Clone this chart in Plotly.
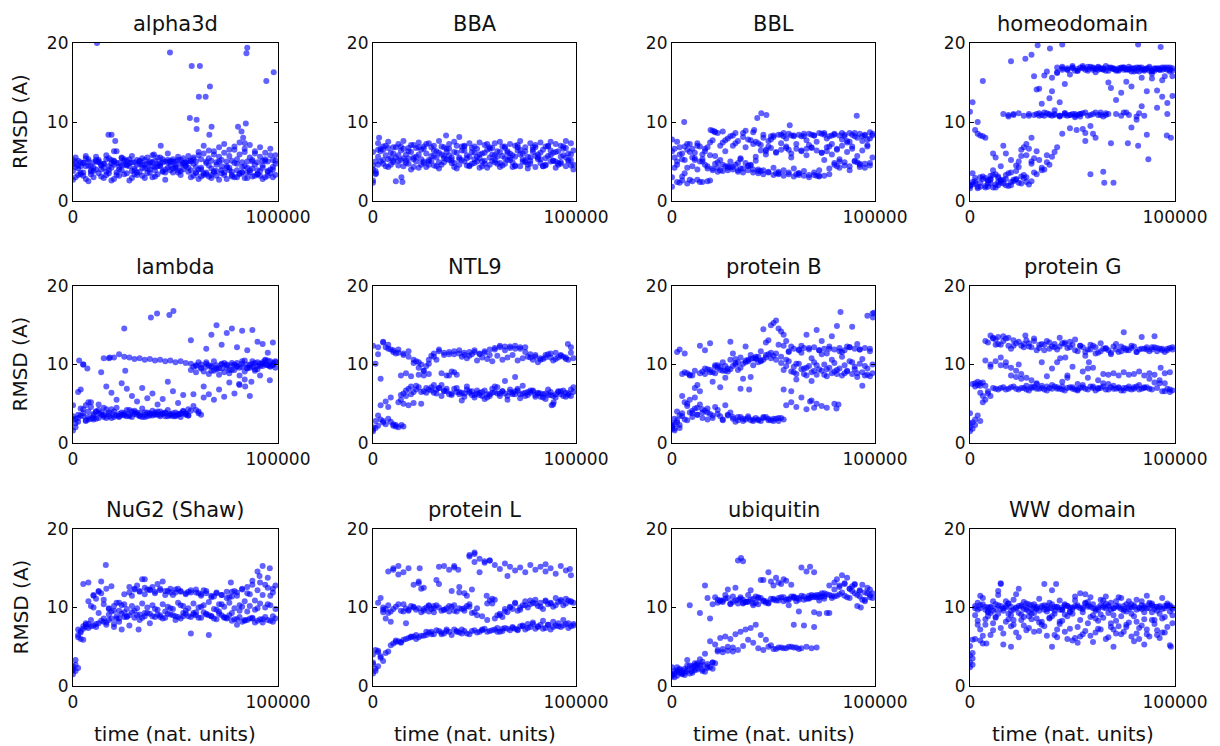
import plotly.graph_objects as go

# ---------------- data ----------------
PANEL_TITLES = ["alpha3d", "BBA", "BBL", "homeodomain",
                "lambda", "NTL9", "protein B", "protein G",
                "NuG2 (Shaw)", "protein L", "ubiquitin", "WW domain"]
X_TICK_VALUES = [0, 100000]
X_TICK_LABELS = ["0", "100000"]
Y_TICK_VALUES = [0, 10, 20]
Y_TICK_LABELS = ["0", "10", "20"]
Y_LABEL = "RMSD (A)"
X_LABEL = "time (nat. units)"

TIME_A = [0, 2500, 5000, 7500, 10000, 12500, 15000, 17500, 20000, 22500,
          25000, 27500, 30000, 32500, 35000, 37500, 40000, 42500, 45000, 47500,
          50000, 52500, 55000, 57500, 60000, 62500, 65000, 67500, 70000, 72500,
          75000, 77500, 80000, 82500, 85000, 87500, 90000, 92500, 95000, 97500]
TIME_B = [1250, 3750, 6250, 8750, 11250, 13750, 16250, 18750, 21250, 23750,
          26250, 28750, 31250, 33750, 36250, 38750, 41250, 43750, 46250, 48750,
          51250, 53750, 56250, 58750, 61250, 63750, 66250, 68750, 71250, 73750,
          76250, 78750, 81250, 83750, 86250, 88750, 91250, 93750, 96250, 98750]
N = None

ALPHA3D_BANDS = [
    [4.6,5.1,4.8,5.3,4.9,5.2,4.7,5.4,5.0,4.8, 5.1,5.3,4.9,5.0,5.2,4.8,5.1,5.5,5.0,5.1,
     5.0,5.2,4.9,5.1,5.0,5.3,5.0,5.1,4.9,5.2, 5.0,5.1,5.3,4.9,5.0,5.2,4.9,5.1,5.0,5.2],
    [3.0,3.6,2.8,3.4,4.0,3.1,3.7,2.6,3.3,3.9, 3.5,2.9,3.6,3.2,4.1,3.0,3.4,3.8,4.2,3.6,
     3.9,4.0,3.7,3.2,2.8,3.5,3.1,3.6,2.7,3.3, 3.9,3.0,3.4,2.9,3.6,3.2,3.8,3.0,3.5,3.3],
    [5.2,4.1,3.6,4.5,3.8,4.9,4.2,3.5,4.6,4.0, 5.3,4.4,3.9,4.7,4.1,3.6,4.3,4.8,4.0,4.5,
     4.2,4.6,4.4,3.9,4.3,4.0,3.6,4.1,3.8,4.4, 4.2,3.7,3.9,4.3,3.6,4.1,3.9,4.2,3.8,4.0],
    [5.5,4.4,5.7,3.9,5.6,4.5,5.8,5.2,6.3,5.5, 4.6,5.7,3.3,5.4,4.7,5.8,5.5,4.9,6.0,5.3,
     5.6,5.4,5.7,5.5,6.2,7.0,6.4,5.9,6.8,7.2, 6.5,6.9,7.4,6.6,7.1,6.3,6.8,6.1,6.6,5.8],
    [2.7,3.3,4.8,2.5,3.0,5.0,2.9,4.4,2.8,3.2, 4.6,2.6,3.4,5.1,2.9,4.0,3.1,4.5,2.7,3.9,
     4.6,3.3,4.8,3.0,3.6,3.1,3.4,2.9,3.2,3.5, 2.8,3.3,3.0,3.6,2.9,3.1,3.4,2.8,3.2,3.0],
    [4.3,4.9,5.4,4.4,5.0,4.6,5.3,4.2,4.8,5.4, 4.5,4.9,5.2,4.6,5.5,4.4,4.7,5.3,4.9,5.0,
     5.2,4.8,5.1,4.7,5.8,6.0,5.4,6.3,5.6,6.1, 5.7,6.5,5.9,6.2,5.5,6.0,5.6,5.3,5.8,5.1],
    [3.8,4.5,3.2,5.0,4.2,3.5,4.7,3.9,5.1,4.3, 3.4,4.8,4.1,3.7,4.6,5.0,3.9,4.4,3.6,4.9,
     4.3,3.8,4.5,5.0,3.5,4.2,4.8,3.3,4.6,3.9, 4.4,3.1,4.7,3.6,4.2,5.0,3.4,4.5,3.7,4.3],
    [4.9,3.4,4.4,3.7,5.2,4.0,3.3,4.8,3.6,4.5, 5.1,3.8,4.6,4.2,3.5,4.9,4.4,3.7,5.2,4.1,
     3.6,4.7,4.2,5.3,4.0,3.3,4.5,3.8,5.0,3.6, 4.2,4.8,3.5,4.4,3.9,4.6,3.2,5.1,4.0,4.7],
]
ALPHA3D_OUT_X = [11700, 47300, 57900, 61900, 61400, 64700, 66800, 57000, 60300, 60300,
                 67600, 66500, 84600, 85000, 94300, 97900, 17300, 18800, 20600, 42800,
                 80500, 84300, 82200, 83000, 83800, 20000, 39500]
ALPHA3D_OUT_Y = [20.0, 18.8, 17.1, 17.1, 13.2, 13.2, 14.5, 10.5, 10.3, 9.1,
                 9.4, 8.4, 18.7, 19.4, 15.2, 16.3, 8.4, 8.4, 7.6, 7.0,
                 9.4, 9.8, 8.8, 8.0, 7.3, 6.3, 5.9]

BBA_BANDS = [
    [6.2,7.3,6.9,7.5,6.8,7.2,7.6,6.7,7.1,7.4, 6.9,7.3,7.0,7.6,6.8,7.2,7.5,8.1,7.0,7.3,
     6.9,7.4,7.1,6.8,7.3,7.5,6.9,7.2,7.0,7.6, 6.8,7.3,7.1,7.4,6.9,7.5,7.2,7.0,7.6,7.3],
    [5.0,6.3,5.8,6.1,5.5,6.4,5.9,6.2,5.6,6.5, 6.0,5.7,6.3,5.9,6.6,5.5,6.1,6.4,5.8,6.2,
     5.6,6.0,6.5,5.9,6.3,5.7,6.1,5.8,6.4,6.0, 5.6,6.2,5.9,6.5,5.7,6.1,6.3,5.8,6.0,6.4],
    [2.6,4.6,5.2,4.3,4.9,5.1,4.4,4.7,5.3,4.2, 4.8,5.0,4.5,4.1,4.9,5.2,4.3,4.6,5.0,4.4,
     4.8,4.2,5.1,4.6,4.9,4.3,4.7,5.2,4.5,4.4, 4.9,5.1,4.3,4.8,4.6,5.0,4.2,4.7,4.4,4.5],
    [3.8,6.6,4.4,5.4,2.5,6.9,5.1,4.0,6.7,5.3, 4.3,6.8,5.5,4.6,6.2,5.2,4.1,6.9,5.4,4.7,
     6.6,5.0,4.2,6.7,5.6,4.5,6.3,4.9,6.8,5.3, 4.1,6.5,5.5,4.4,6.9,5.1,4.6,6.6,5.2,4.0],
    [4.0,5.6,6.5,5.3,6.0,5.8,5.4,6.3,5.5,5.9, 6.6,5.2,5.7,6.1,5.4,5.8,6.2,5.5,6.4,5.6,
     5.3,5.9,6.1,5.5,5.8,6.2,5.4,6.0,5.6,5.9, 6.3,5.5,5.7,6.1,5.4,5.8,6.2,5.6,5.5,5.9],
    [3.4,5.0,7.0,4.6,6.8,5.2,4.8,7.1,5.0,4.6, 7.2,5.1,4.4,6.9,5.3,4.8,7.0,5.2,4.5,6.7,
     5.0,4.4,7.2,5.1,4.7,6.9,5.2,4.3,7.1,5.0, 4.6,6.8,5.3,4.4,7.0,5.1,4.8,6.9,5.0,4.6],
    [4.5,6.5,4.7,6.7,5.1,4.5,6.6,5.4,4.3,6.8, 5.0,4.6,6.4,4.9,5.7,6.6,4.8,5.3,6.9,4.5,
     6.1,5.4,4.7,6.6,5.2,4.8,6.7,5.5,4.4,6.5, 5.1,4.7,6.8,5.3,4.5,6.4,5.0,4.9,6.7,5.2],
]
BBA_OUT_X = [0, 1500, 3000, 14000, 14500, 36000]
BBA_OUT_Y = [2.3, 3.5, 8.0, 3.0, 2.4, 8.3]

BBL_BANDS = [
    [1.8,2.4,2.6,2.2,2.5,2.7,2.4,2.5,3.9,4.2, 3.8,4.4,4.0,3.7,4.1,3.9,3.6,3.8,3.4,3.6,
     3.3,3.5,3.2,3.4,3.1,3.3,3.2,3.0,3.3,3.1, 3.2,3.4,4.6,4.2,4.9,4.4,5.0,4.3,4.7,4.5],
    [5.5,6.8,5.2,7.2,6.1,5.0,6.6,5.8,4.7,5.2, 4.4,5.0,4.6,5.3,4.8,4.5,5.1,6.4,5.9,6.7,
     6.2,6.5,6.9,6.0,6.6,6.3,5.8,6.7,6.4,6.1, 6.8,5.9,6.5,7.0,6.2,6.6,5.7,6.4,6.9,5.5],
    [6.3,7.5,6.0,7.2,6.6,7.3,5.9,6.8,8.9,8.6, 7.4,7.9,8.3,7.6,8.1,7.8,8.7,7.3,8.0,7.6,
     8.3,8.4,8.2,8.5,8.3,8.4,8.2,8.5,8.3,8.6, 8.4,8.2,8.5,8.3,8.4,8.6,8.2,8.5,8.4,8.7],
    [4.2,5.9,3.5,6.2,5.4,6.9,4.6,7.4,5.7,7.0, 6.3,8.2,7.3,5.4,6.8,7.7,5.6,7.1,6.5,7.8,
     6.1,7.3,7.9,5.5,7.2,6.4,7.7,6.8,7.5,6.1, 7.9,7.2,6.6,7.8,7.4,6.9,8.0,7.6,7.1,8.3],
    [3.0,4.6,5.3,4.2,5.5,4.0,5.0,4.4,4.1,3.7, 4.6,3.9,4.3,4.8,3.6,4.4,4.0,3.5,3.9,3.7,
     4.2,3.4,3.9,3.6,4.1,3.5,3.8,3.3,3.6,3.9, 5.2,4.1,4.8,5.3,4.5,3.9,5.1,4.6,4.2,4.8],
    [6.6,2.3,6.9,2.7,5.2,2.4,6.3,2.6,8.7,3.9, 7.7,4.3,8.6,4.1,8.9,4.6,7.5,3.8,6.3,8.2,
     3.5,8.4,6.7,8.3,3.4,8.2,6.6,8.4,3.2,8.5, 6.3,8.3,4.4,8.6,7.6,8.4,4.9,8.2,7.8,8.5],
    [7.8,5.0,3.1,6.5,4.4,7.0,5.3,4.1,7.7,4.9, 8.8,4.2,7.0,3.9,8.6,4.5,7.2,4.0,8.4,6.9,
     8.1,3.7,8.6,6.5,8.2,3.5,8.5,7.1,8.3,3.2, 8.6,6.9,8.4,5.0,8.2,7.5,8.6,4.7,8.3,7.9],
]
BBL_OUT_X = [6000, 42000, 44000, 46500, 58000, 91000, 19000, 21000, 40500]
BBL_OUT_Y = [10.0, 10.5, 11.1, 10.9, 9.6, 10.8, 9.0, 8.8, 9.0]

HOMEO_BANDS = [
    [2.0,2.5,1.8,2.9,2.2,1.7,2.6,2.0,2.4,2.8, 2.2,3.0,2.5,3.4,4.2,4.9,5.6,6.8,8.5,10.8,
     11.0,10.9,11.1,10.8,11.0,10.9,10.7,11.0,N,N, 11.2,10.9,N,11.1,10.8,N,N,N,N,N],
    [3.5,1.6,2.8,2.2,3.3,2.0,2.7,1.9,2.5,2.3, 2.9,2.1,3.6,5.2,4.0,4.6,6.2,12.5,14.8,16.0,
     16.5,16.9,16.6,17.0,16.7,16.8,16.5,16.9,16.6,16.8, 16.7,16.4,16.9,16.6,16.8,16.5,16.7,16.9,16.6,16.8],
    [11.3,9.0,8.3,8.0,2.8,5.5,4.4,6.0,5.2,3.8, 6.5,5.8,4.7,11.0,10.9,11.1,10.8,16.2,17.0,16.6,
     16.8,16.5,17.1,16.7,16.9,16.6,16.8,15.0,16.7,16.5, 16.9,16.6,16.8,16.4,16.7,16.5,16.8,16.6,15.8,16.9],
    [12.5,8.5,15.2,2.6,6.0,3.1,7.0,10.9,11.0,5.0, 6.8,10.8,15.8,14.2,15.9,13.0,11.5,10.8,10.9,9.2,
     10.6,11.0,8.6,9.5,8.0,11.2,10.9,14.3,12.8,13.7, 15.1,14.5,10.3,15.6,13.9,16.1,11.8,15.3,12.4,13.3],
    [1.6,2.2,3.0,1.9,2.7,3.4,2.3,2.8,3.6,4.5, 5.7,7.2,8.0,14.1,12.3,16.4,15.6,16.9,16.6,16.8,
     17.1,16.7,16.9,16.5,16.8,17.0,16.6,16.9,16.7,16.8, 16.6,17.0,16.7,16.9,16.5,16.8,16.7,16.6,16.9,16.4],
    [2.1,10.0,8.2,1.8,3.9,2.4,11.0,10.7,10.9,11.1, 10.8,11.0,10.9,10.8,11.2,10.9,11.0,10.8,11.1,10.9,
     11.0,10.7,7.6,3.4,11.2,10.9,11.1,7.3,11.0,10.8, 11.2,9.3,10.7,12.0,8.4,15.5,14.0,13.2,11.0,15.8],
    [1.9,2.9,2.3,1.7,3.2,2.1,2.6,3.3,2.0,2.7, 3.1,2.4,5.0,6.3,3.9,5.8,13.9,16.3,16.8,16.6,
     16.9,16.5,16.8,17.0,16.6,16.9,16.7,16.5,16.8,16.6, 16.9,16.7,16.4,16.8,16.6,17.0,16.5,16.8,16.7,16.6],
    [2.4,1.8,3.1,2.6,1.7,2.9,2.2,3.5,2.7,4.3, 3.3,6.6,5.4,11.1,10.8,11.0,10.9,10.7,11.1,10.9,
     10.8,11.0,11.2,10.9,16.3,16.7,17.1,16.8,16.5,16.9, 16.6,16.8,16.5,16.9,16.7,16.4,16.8,16.6,16.9,16.5],
]
HOMEO_OUT_X = [20000, 27000, 30000, 33000, 39000, 45000, 82000, 93000, 65000, 65500,
               70000, 87000, 77000, 82000, 98000, 96000, 55000, 60000, 52000]
HOMEO_OUT_Y = [17.7, 18.0, 18.5, 19.7, 19.3, 19.8, 19.8, 19.5, 3.7, 2.3,
               2.3, 5.3, 7.3, 7.0, 8.0, 8.3, 9.1, 8.5, 9.0]

LAMBDA_BANDS = [
    [1.6,3.2,3.8,3.0,3.5,4.2,3.3,3.7,4.0,3.4, 3.8,3.6,4.1,3.5,3.9,3.7,3.6,4.0,3.8,3.5,
     3.9,3.7,3.6,9.3,9.8,9.5,10.1,9.7,9.4,10.0, 9.6,9.9,10.2,9.7,9.5,10.1,9.8,10.3,9.9,10.0],
    [2.5,4.4,2.9,4.6,3.1,3.9,4.3,3.2,4.5,3.6, 4.2,3.3,3.9,4.4,3.4,4.1,3.6,3.8,4.2,3.4,
     3.7,4.0,3.5,6.2,4.0,5.8,8.8,9.2,8.7,9.0, 8.9,9.3,8.6,9.1,9.6,10.2,9.8,10.5,9.7,10.3],
    [4.8,6.5,10.0,5.2,3.0,4.9,3.6,10.8,10.9,11.3, 11.0,10.9,10.7,10.8,10.6,10.7,10.5,10.6,10.4,10.5,
     10.3,10.4,10.2,10.1,9.9,10.0,9.7,9.8,9.6,10.1, 9.9,10.2,9.8,10.4,10.0,9.7,10.3,10.1,9.9,10.2],
    [3.1,6.8,2.8,5.2,4.0,9.0,7.2,6.4,5.5,7.6, 6.9,6.0,5.3,7.0,5.7,6.3,4.9,5.6,7.8,6.6,
     5.1,6.1,4.3,4.7,3.8,7.2,6.2,5.5,6.8,5.9, 7.7,6.3,7.4,8.1,6.0,9.2,8.6,10.0,10.4,9.6],
    [3.4,3.6,4.3,3.3,3.7,3.2,4.5,3.4,3.6,3.3, 3.5,4.2,3.7,3.4,3.6,3.8,3.9,3.6,3.4,3.7,
     3.5,3.3,3.8,13.1,4.2,3.6,12.0,13.8,15.0,12.5, 14.0,14.6,12.2,14.3,11.8,14.4,12.9,12.6,11.5,12.8],
    [2.0,3.5,4.8,3.1,4.0,3.6,3.2,4.3,3.5,3.9, 3.4,4.0,3.6,3.3,3.9,3.5,4.0,3.7,3.4,3.8,
     3.6,4.1,3.5,9.7,10.3,9.1,9.9,10.4,9.5,10.2, 9.3,10.0,9.6,10.5,9.9,9.4,10.1,10.6,9.8,10.4],
    [3.0,2.7,3.4,4.0,3.2,3.8,3.5,3.9,3.3,3.7, 3.6,3.4,3.9,3.8,3.3,3.5,3.7,3.4,3.9,3.6,
     3.4,3.8,3.7,4.1,9.0,9.6,10.3,9.2,9.9,9.5, 10.0,9.3,9.7,10.1,9.6,10.4,9.4,9.8,10.5,9.9],
]
LAMBDA_OUT_X = [3000, 5000, 7000, 15000, 18000, 25000, 38000, 41000, 47000, 49000,
                25500, 81000, 84000, 87000, 96000]
LAMBDA_OUT_Y = [10.5, 10.0, 9.5, 10.8, 10.9, 14.6, 16.0, 16.5, 16.3, 16.8,
                9.2, 7.5, 7.2, 7.8, 8.0]

NTL9_BANDS = [
    [1.5,2.2,2.8,3.1,2.4,2.0,6.3,6.9,6.5,7.1, 6.6,6.8,6.4,7.0,6.7,6.2,6.9,6.5,6.3,6.6,
     6.1,6.4,6.7,6.2,6.5,6.0,6.3,6.8,6.6,6.2, 6.4,6.7,6.1,5.9,6.3,6.5,6.2,6.6,6.4,6.8],
    [2.8,4.8,5.3,5.8,2.1,5.5,6.0,7.2,6.8,5.0, 7.0,6.7,6.3,7.4,6.9,6.1,6.5,5.4,7.2,6.6,
     6.3,6.0,5.8,6.4,7.1,6.6,5.5,6.2,6.9,7.3, 6.5,6.7,6.3,5.8,6.1,4.9,6.6,6.0,6.3,7.1],
    [12.4,11.3,12.9,12.5,11.8,11.5,11.2,11.7,10.2,9.6, 8.6,10.1,11.4,11.7,11.2,11.6,11.3,11.8,11.5,11.1,
     11.6,11.4,11.7,11.2,11.9,12.2,12.3,12.1,12.4,12.0, 12.2,11.3,11.0,10.8,11.2,10.9,11.5,11.1,10.7,12.2],
    [10.1,8.2,12.2,11.9,11.4,8.6,8.9,8.5,10.4,10.0, 9.8,11.1,10.6,8.9,8.6,9.1,8.7,11.0,10.8,11.3,
     10.5,10.9,10.7,10.4,11.1,10.6,10.9,11.2,10.5,10.8, 11.0,10.6,10.3,10.7,11.3,10.5,10.9,11.0,10.6,10.8],
    [2.0,3.5,2.6,4.6,2.2,5.2,5.0,4.8,5.1,8.7, 9.2,8.8,7.4,7.0,6.6,8.6,9.0,6.2,5.9,6.4,
     5.8,6.1,5.6,6.0,7.2,6.3,7.9,6.5,6.2,5.7, 6.0,6.4,5.9,6.3,5.6,6.1,5.8,6.2,5.9,6.0],
    [1.9,3.0,2.4,2.7,2.3,6.1,6.7,6.2,7.3,6.5, 6.4,7.1,6.8,6.0,6.6,6.3,7.0,6.4,6.8,6.1,
     6.7,6.5,6.2,6.9,6.3,6.6,6.0,6.4,6.7,6.3, 6.1,6.6,6.4,6.2,6.8,6.0,6.5,6.7,6.1,6.5],
    [1.7,12.2,12.8,12.0,11.6,11.9,11.4,11.0,10.6,10.3, 9.2,10.6,11.0,11.9,11.5,11.3,11.7,11.4,11.2,11.6,
     11.8,11.3,11.5,11.9,12.1,12.4,11.8,12.3,12.0,12.2, 11.6,10.9,11.2,10.6,10.9,11.4,10.7,11.2,10.9,11.5],
]
NTL9_OUT_X = [14000, 15000, 88000, 89000, 70000, 96000]
NTL9_OUT_Y = [2.3, 2.1, 4.8, 5.2, 8.4, 12.6]

PROTB_BANDS = [
    [1.8,2.6,3.4,2.9,3.8,4.5,3.2,3.9,3.5,4.2, 3.0,3.6,3.3,2.9,3.1,3.4,2.8,3.0,3.2,2.9,
     3.1,2.8,3.0,N,N,N,N,N,N,N, N,N,N,N,N,N,N,N,N,N],
    [2.4,1.9,3.0,5.5,5.8,4.9,4.1,3.7,4.6,3.4, 4.8,3.9,2.7,3.3,3.0,2.9,3.2,2.8,3.3,2.9,
     3.1,3.2,4.8,5.2,4.6,5.8,4.3,5.4,5.0,4.7, 4.5,N,N,N,N,N,N,N,N,N],
    [2.2,11.6,8.8,8.9,8.6,7.4,9.1,9.4,9.0,9.6, 9.2,9.5,9.8,9.3,10.1,10.4,10.8,11.0,10.6,11.3,
     11.1,12.5,13.8,11.7,12.0,11.8,12.1,11.9,12.2,11.8, 12.0,12.3,11.9,12.1,11.8,12.2,12.0,11.9,12.1,11.7],
    [3.1,11.9,11.4,8.7,7.0,6.6,8.8,9.3,8.9,9.7, 9.2,10.6,10.2,10.9,10.5,11.2,10.7,10.4,10.9,11.5,
     10.6,10.2,9.8,9.1,8.8,9.4,8.6,9.0,8.7,9.2, 8.5,8.9,9.3,8.6,9.1,8.8,8.4,9.0,8.7,8.9],
    [2.5,4.0,6.0,4.7,3.3,3.6,4.3,3.0,7.8,9.9, 10.3,9.1,11.4,10.3,8.2,10.6,9.9,10.3,14.5,13.1,
     15.3,14.6,12.4,10.4,9.7,10.1,9.5,9.8,10.3,9.4, 10.0,9.6,10.2,9.5,9.9,10.4,9.7,10.1,9.8,8.5],
    [1.6,3.5,5.2,3.9,4.4,12.4,11.8,12.7,9.9,7.1, 8.3,12.9,10.7,6.9,12.3,8.4,10.8,11.7,12.8,15.0,
     15.6,14.2,13.0,6.6,8.1,12.4,13.8,7.9,14.4,13.0, 11.4,13.6,14.9,11.6,12.3,14.8,12.6,7.3,16.2,16.5],
    [2.0,2.9,3.8,5.0,4.1,3.6,3.9,4.4,3.2,3.7, 2.9,3.5,3.1,3.3,2.8,3.2,3.0,2.9,3.3,3.1,
     2.8,3.2,9.3,11.6,9.0,11.9,8.8,12.1,9.2,11.8, 8.7,12.0,9.1,11.7,8.9,12.2,9.4,11.9,8.6,12.0],
    [1.8,2.3,9.0,8.6,9.2,8.9,9.5,9.0,9.7,9.3, 9.8,9.4,10.0,9.6,10.3,10.7,11.0,10.5,11.2,10.8,
     11.4,11.0,10.6,12.3,10.1,11.5,9.6,10.8,9.9,11.3, 9.4,10.6,8.8,11.0,9.2,10.3,8.9,10.7,9.5,10.0],
]
PROTB_OUT_X = [83000, 99000, 99500, 38000, 55000, 68000, 70000, 80000, 81000, 82000]
PROTB_OUT_Y = [16.7, 16.0, 16.6, 6.8, 6.8, 5.3, 4.5, 5.0, 4.4, 4.9]

PROTG_BANDS = [
    [1.5,2.3,2.8,5.5,6.0,6.9,7.0,6.8,7.1,6.9, 7.0,6.8,7.2,6.9,7.0,6.7,6.9,7.1,6.8,7.0,
     6.9,6.7,7.1,6.8,7.0,6.9,7.2,6.8,6.9,7.0, 6.7,6.9,7.1,6.8,7.0,6.9,N,N,6.6,6.5],
    [7.5,7.8,5.2,6.3,13.3,13.5,13.0,13.4,12.4,12.9, 12.2,12.7,13.3,12.1,12.5,12.0,12.6,12.3,12.8,12.2,
     11.8,12.4,11.6,11.9,12.2,11.7,12.0,11.5,11.9,12.3, 11.8,12.1,11.6,12.0,12.2,11.9,12.1,11.8,12.0,12.2],
    [3.8,7.2,7.6,7.3,10.0,10.4,9.9,10.3,9.6,9.2, 8.8,8.3,8.0,7.6,7.3,7.2,9.5,10.3,7.8,8.6,
     9.7,7.5,9.1,8.3,9.6,8.0,7.6,8.7,8.9,8.6, 9.0,8.7,8.8,9.1,8.6,8.9,8.7,7.6,8.9,9.0],
    [2.6,7.4,6.0,12.8,13.4,12.6,13.6,12.4,13.1,10.0, 12.6,12.3,13.0,12.5,11.8,12.8,12.2,13.4,12.6,12.9,
     13.2,12.4,11.1,12.5,11.4,12.7,12.1,11.3,12.6,11.7, 12.0,12.4,11.6,13.5,11.9,12.2,11.7,12.0,11.8,11.9],
    [2.0,3.0,6.4,10.5,9.7,12.5,10.9,9.8,8.6,8.4, 8.2,7.3,7.0,7.5,10.3,8.5,7.4,6.9,7.2,8.3,
     7.1,6.8,7.4,9.5,7.2,7.0,8.8,7.5,7.3,7.1, 7.0,7.2,6.9,7.4,7.1,8.2,7.7,8.0,7.6,6.8],
    [1.8,3.5,7.7,6.6,7.0,6.8,7.1,6.9,7.2,6.8, 7.0,6.7,7.1,6.9,6.8,7.0,7.2,6.9,6.7,7.1,
     6.8,7.0,6.9,7.2,6.7,7.0,6.8,7.1,6.9,6.7, 7.0,6.8,7.2,6.9,7.1,6.8,7.0,6.6,6.9,6.7],
    [2.5,7.6,7.3,13.0,13.7,13.2,12.5,13.3,12.0,12.7, 12.4,13.1,12.2,11.8,12.6,13.0,12.3,11.9,12.7,12.1,
     12.5,11.7,12.2,11.9,12.4,11.5,12.0,11.8,12.3,11.6, 12.1,11.8,12.3,11.9,12.0,11.7,12.2,12.0,11.6,12.1],
]
PROTG_OUT_X = [75000, 90000, 27000, 44000, 46500, 58000, 93000]
PROTG_OUT_Y = [14.1, 13.6, 13.7, 10.8, 10.9, 10.3, 9.6]

NUG2_BANDS = [
    [1.5,2.3,7.6,7.9,7.7,8.0,8.2,8.4,7.9,8.6, 8.8,9.0,8.7,9.1,8.9,9.2,8.8,9.0,8.7,9.1,
     8.9,8.6,9.2,8.8,9.0,8.7,9.1,8.9,8.5,9.0, 8.6,8.3,8.5,8.2,8.4,8.6,8.3,8.1,8.4,8.2],
    [2.7,6.8,7.5,10.2,11.1,11.8,12.4,12.7,10.6,10.3, 9.8,10.2,9.9,10.5,10.0,10.3,9.7,10.4,10.1,9.8,
     10.6,10.2,9.9,10.5,10.0,10.3,10.7,9.8,10.4,10.1, 10.6,9.9,10.3,10.8,10.2,9.7,10.5,10.0,10.3,9.8],
    [2.0,6.2,13.0,13.2,11.5,12.0,11.0,9.1,9.6,10.6, 11.7,12.6,12.3,12.1,12.5,12.2,12.0,12.4,12.1,11.9,
     12.3,12.0,11.8,12.2,11.9,11.7,12.1,11.5,11.8,11.6, 12.0,11.4,11.9,12.3,12.6,13.4,14.6,15.3,13.8,12.4],
    [3.3,6.0,7.8,8.4,7.5,13.3,8.1,9.5,8.6,7.2, 8.9,11.5,12.8,13.6,12.3,12.6,13.0,13.3,12.1,11.6,
     12.4,8.9,12.0,9.3,11.8,12.2,6.5,11.4,9.5,8.7, 11.3,12.1,9.6,8.4,11.7,10.9,13.2,12.9,11.5,12.8],
    [2.5,7.2,5.9,7.4,10.0,9.3,8.6,9.8,7.5,8.2, 9.4,7.7,9.6,8.4,9.3,8.0,9.8,8.8,9.5,9.9,
     8.4,10.3,9.6,6.7,9.4,10.1,9.2,8.9,9.7,10.4, 8.7,9.3,7.8,10.1,9.5,8.7,9.9,8.5,10.4,8.9],
    [1.9,7.0,8.0,7.6,7.9,8.3,7.8,8.6,8.9,9.2, 8.8,9.4,9.0,8.7,9.3,8.9,9.1,8.6,9.2,9.0,
     8.8,9.3,8.9,9.1,8.7,9.4,9.0,8.6,9.2,8.8, 9.0,8.5,8.8,8.3,8.6,8.1,8.5,8.8,8.3,8.6],
    [2.2,6.5,7.3,10.8,11.6,12.1,10.4,9.9,10.2,9.6, 10.4,11.9,12.4,12.0,11.7,12.3,11.8,12.2,11.6,12.4,
     11.9,12.1,11.7,11.9,12.3,11.5,11.8,11.3,11.9,11.6, 11.2,12.0,11.5,12.4,11.8,12.9,12.2,11.6,12.5,11.9],
]
NUG2_OUT_X = [16000, 35000, 77000, 32000, 91000, 96000]
NUG2_OUT_Y = [15.4, 13.6, 13.2, 7.2, 14.0, 15.0]

PROTL_BANDS = [
    [1.6,2.5,3.2,4.4,5.4,5.7,5.9,6.1,6.3,6.2, 6.4,6.8,6.6,7.0,6.7,6.9,7.2,6.8,7.0,6.6,
     7.1,6.9,7.3,7.0,7.2,6.9,7.4,7.1,7.3,7.6, 7.2,7.5,7.3,7.8,7.4,7.2,7.7,7.5,7.9,7.6],
    [2.2,11.2,9.8,9.5,10.1,9.6,9.9,10.2,9.7,9.4, 10.0,9.8,10.3,9.6,9.9,10.1,9.5,9.8,10.2,9.3,
     9.9,8.9,8.4,10.5,9.0,8.8,9.4,9.8,9.6,10.3, 10.0,10.6,10.2,9.8,10.4,10.1,10.7,10.3,10.9,10.6],
    [3.0,4.3,9.4,10.3,14.8,15.3,14.5,15.0,12.9,13.3, 12.5,9.5,10.2,13.0,15.3,14.8,15.1,12.6,11.8,16.5,
     16.8,16.2,15.7,16.0,15.4,14.9,15.6,15.2,14.7,15.1, 14.5,15.4,14.8,15.2,14.6,15.0,14.3,15.3,14.7,14.1],
    [4.6,3.8,8.6,8.2,5.6,5.5,8.0,6.3,6.0,12.4, 6.5,6.9,13.5,6.6,7.2,12.1,7.0,6.7,11.5,12.3,
     9.0,7.1,10.5,11.1,6.9,7.3,14.0,7.4,7.1,7.6, 7.9,8.1,7.5,8.3,7.8,8.2,7.6,8.4,8.0,7.7],
    [4.0,4.5,9.7,14.6,15.0,14.2,10.4,9.6,10.1,13.1, 9.8,10.3,9.9,15.2,9.7,10.2,9.6,11.9,9.9,10.4,
     15.8,14.5,15.9,16.0,8.6,9.2,9.5,10.1,10.5,10.0, 10.8,10.4,11.0,10.6,10.9,10.5,11.2,10.8,11.1,10.7],
    [1.9,3.6,4.2,5.2,5.8,5.6,6.0,6.2,6.5,6.4, 6.9,6.6,7.1,6.8,7.0,6.5,6.9,7.2,6.7,7.0,
     6.8,7.2,6.9,7.1,7.4,7.0,7.3,7.5,7.2,7.7, 7.4,7.9,7.6,7.3,7.8,7.5,8.0,7.7,7.4,7.9],
    [2.8,10.6,10.0,9.3,9.8,10.4,9.5,9.7,10.0,9.9, 9.6,10.2,9.4,10.0,9.7,9.5,10.3,9.9,9.6,10.1,
     9.4,N,N,N,N,9.0,9.8,10.0,10.6,9.7, 10.3,10.9,10.5,10.1,10.8,10.6,10.3,11.0,10.5,10.8],
]
PROTL_OUT_X = [23000, 40000, 42000, 47500, 50000, 56000, 57500, 60000, 85000, 97000]
PROTL_OUT_Y = [15.0, 15.3, 14.8, 16.7, 17.0, 11.5, 10.9, 11.0, 15.5, 14.9]

UBIQ_BANDS = [
    [1.2,1.8,1.5,2.1,1.7,2.3,1.9,2.5,2.2,10.6, 10.9,11.2,10.7,11.0,10.5,10.8,11.1,10.4,10.9,10.6,
     11.0,11.2,10.8,11.1,11.3,11.0,11.4,11.2,11.5,11.3, 11.1,11.6,11.4,11.7,11.5,11.2,11.8,11.4,11.0,11.3],
    [1.6,2.0,1.4,2.6,2.9,3.4,4.1,5.7,5.3,6.1, 6.3,6.0,6.6,6.9,7.2,7.4,7.8,6.5,5.9,5.2,
     4.7,4.9,4.8,5.0,4.9,4.8,5.0,4.8,4.9,N, N,N,N,N,N,N,N,N,N,N],
    [2.4,1.3,2.0,3.3,1.9,2.7,2.1,2.8,3.0,4.4, 4.7,4.5,4.9,4.6,5.1,5.9,5.5,4.8,4.6,5.0,
     4.7,4.9,4.8,5.0,4.9,4.7,N,N,9.4,9.2, N,N,N,N,N,N,N,N,N,N],
    [1.9,2.2,1.7,10.3,2.6,9.3,12.8,8.6,11.3,10.9, 11.6,10.4,12.5,11.1,10.7,12.2,11.4,13.5,10.6,13.3,
     13.8,13.0,13.4,12.9,10.8,15.1,14.6,11.6,11.3,11.8, 9.3,11.5,13.6,14.1,13.8,12.7,10.2,12.9,12.5,11.8],
    [1.5,2.4,1.7,2.6,2.3,2.9,3.1,11.2,10.4,11.0, 10.7,12.3,11.4,16.0,10.6,11.6,10.5,11.3,13.5,14.5,
     12.8,13.2,13.6,10.3,11.2,9.5,7.7,11.1,7.5,10.9, 11.8,9.3,12.3,12.8,13.1,12.4,13.0,12.1,10.8,11.6],
    [1.1,1.7,2.2,1.6,2.0,2.6,1.8,2.4,2.9,10.8, 11.1,10.5,10.9,11.3,10.7,11.0,10.6,11.2,10.8,11.1,
     10.9,11.3,11.0,11.4,11.2,11.5,11.1,11.3,11.6,11.4, 11.7,11.2,11.5,11.9,11.3,12.1,11.6,11.0,11.8,11.2],
    [1.4,2.0,1.6,1.9,2.5,2.1,2.7,2.3,3.0,4.6, 4.3,5.0,4.4,10.5,11.0,10.7,10.3,11.2,10.8,10.5,
     11.1,10.9,11.3,11.0,11.4,11.2,11.0,11.5,11.3,11.6, 11.4,12.8,13.2,12.6,13.0,12.4,12.9,12.2,11.9,12.3],
]
UBIQ_OUT_X = [34000, 35000, 68000, 93000, 60000, 70000]
UBIQ_OUT_Y = [16.3, 15.9, 15.2, 10.0, 7.8, 14.5]

WW_BANDS = [
    [3.0,10.2,9.9,10.1,10.0,9.8,10.2,10.0,10.1,9.9, 10.3,10.0,9.8,10.1,10.0,10.2,9.9,10.1,10.0,10.2,
     9.8,10.1,10.0,10.3,9.9,10.0,10.2,10.1,9.9,10.0, 10.2,9.8,10.1,10.0,10.2,9.9,10.1,10.0,10.2,10.1],
    [4.2,10.6,11.2,9.4,10.8,11.6,9.6,10.5,11.0,9.3, 10.7,9.5,10.4,11.1,9.7,10.6,9.2,10.9,10.3,9.5,
     11.4,11.8,10.6,11.3,9.6,11.0,10.5,9.7,10.8,11.2, 9.5,10.4,11.0,9.8,11.5,10.3,9.6,11.2,10.5,9.8],
    [5.1,6.0,7.2,8.5,6.5,8.8,7.4,8.2,9.0,6.8, 8.4,7.1,9.2,8.6,7.8,6.4,8.9,7.2,8.3,6.0,
     5.8,7.5,6.6,8.0,5.6,7.3,8.7,6.2,9.0,7.6, 6.9,8.1,5.7,7.4,8.5,6.3,7.9,6.1,8.8,5.2],
    [2.7,7.8,5.4,9.5,8.0,12.1,5.3,9.2,8.4,12.4, 7.7,8.9,9.3,7.0,13.0,8.6,9.6,8.2,6.9,9.4,
     10.9,6.3,11.7,8.8,6.8,9.1,11.4,7.5,8.3,6.6, 7.8,9.2,6.7,10.8,7.2,9.4,6.5,8.6,10.2,9.0],
    [3.9,9.0,11.5,7.8,9.3,8.7,13.1,10.8,7.6,11.7, 9.1,10.5,8.5,9.8,8.2,9.5,12.2,6.2,9.7,8.9,
     9.2,5.5,9.4,10.7,9.0,8.3,10.9,9.3,7.2,11.3, 9.6,10.8,8.9,6.0,9.4,10.6,8.4,9.2,6.8,9.5],
    [3.5,9.7,10.4,10.0,9.6,10.3,9.9,10.5,9.7,10.2, 9.8,10.4,10.0,9.6,10.3,9.9,10.1,9.7,10.4,10.0,
     10.2,9.9,10.5,10.1,9.8,10.3,9.9,10.6,10.2,9.8, 10.4,10.0,9.7,10.3,9.9,10.5,10.1,9.8,10.3,10.0],
    [2.4,9.9,10.3,9.7,10.1,10.4,9.8,10.2,9.6,10.0, 10.1,9.7,10.3,9.9,10.2,9.8,10.4,10.0,9.7,10.2,
     10.0,10.3,9.8,10.1,10.4,9.7,10.0,10.3,9.9,10.2, 9.8,10.1,10.3,9.9,10.0,10.4,9.8,10.2,9.9,10.3],
    [5.9,8.3,6.4,8.9,7.1,9.2,6.7,8.5,7.8,6.2, 8.8,7.4,6.9,8.1,7.6,8.7,6.5,7.9,9.1,7.3,
     6.1,8.4,7.0,6.4,8.6,7.2,6.0,8.0,6.7,8.9, 7.5,6.3,8.2,7.7,6.6,8.4,7.1,6.8,7.5,8.0],
]
WW_OUT_X = [20000, 40000, 70000, 85000, 98000, 5000, 8000, 15000, 42000]
WW_OUT_Y = [5.0, 5.0, 5.0, 5.3, 5.0, 5.8, 5.4, 13.0, 13.0]

PANEL_BANDS = [ALPHA3D_BANDS, BBA_BANDS, BBL_BANDS, HOMEO_BANDS,
               LAMBDA_BANDS, NTL9_BANDS, PROTB_BANDS, PROTG_BANDS,
               NUG2_BANDS, PROTL_BANDS, UBIQ_BANDS, WW_BANDS]
PANEL_OUT_X = [ALPHA3D_OUT_X, BBA_OUT_X, BBL_OUT_X, HOMEO_OUT_X,
               LAMBDA_OUT_X, NTL9_OUT_X, PROTB_OUT_X, PROTG_OUT_X,
               NUG2_OUT_X, PROTL_OUT_X, UBIQ_OUT_X, WW_OUT_X]
PANEL_OUT_Y = [ALPHA3D_OUT_Y, BBA_OUT_Y, BBL_OUT_Y, HOMEO_OUT_Y,
               LAMBDA_OUT_Y, NTL9_OUT_Y, PROTB_OUT_Y, PROTG_OUT_Y,
               NUG2_OUT_Y, PROTL_OUT_Y, UBIQ_OUT_Y, WW_OUT_Y]

# ---------------- layout ----------------
W, H = 1220, 746
COL_PX = [(73, 278), (373, 576), (672, 875), (970, 1175)]
ROW_PX = [(43, 201), (286, 443), (529, 686)]
FONT = "DejaVu Sans"
TXT = "#111111"

fig = go.Figure()
layout = dict(width=W, height=H,
              margin=dict(l=0, r=0, t=0, b=0, pad=0, autoexpand=False),
              paper_bgcolor="white", plot_bgcolor="white", showlegend=False,
              font=dict(family=FONT, color=TXT))
annotations = []

for k in range(12):
    r, c = divmod(k, 4)
    xs, ys = [], []
    for j, band in enumerate(PANEL_BANDS[k]):
        times = TIME_A if j % 2 == 0 else TIME_B
        for t, v in zip(times, band):
            if v is not None:
                xs.append(t)
                ys.append(v)
    xs += PANEL_OUT_X[k]
    ys += PANEL_OUT_Y[k]
    sfx = "" if k == 0 else str(k + 1)
    fig.add_trace(go.Scatter(
        x=xs, y=ys, mode="markers", xaxis="x" + sfx, yaxis="y" + sfx,
        marker=dict(color="#0000ff", size=6, opacity=0.62, line=dict(width=0)),
        hoverinfo="skip"))
    x0, x1 = COL_PX[c]
    yt, yb = ROW_PX[r]
    axis_common = dict(showline=True, mirror="ticks", linecolor="black", linewidth=1.2,
                       ticks="inside", ticklen=4, tickcolor="black", showgrid=False,
                       zeroline=False, tickfont=dict(family=FONT, size=17, color=TXT),
                       fixedrange=True, automargin=False)
    layout["xaxis" + sfx] = dict(axis_common, domain=[x0 / W, x1 / W], range=[0, 100000],
                                 tickmode="array", tickvals=X_TICK_VALUES,
                                 ticktext=X_TICK_LABELS, anchor="y" + sfx)
    layout["yaxis" + sfx] = dict(axis_common, domain=[1 - yb / H, 1 - yt / H], range=[0, 20],
                                 tickmode="array", tickvals=Y_TICK_VALUES,
                                 ticktext=Y_TICK_LABELS, anchor="x" + sfx)
    annotations.append(dict(text=PANEL_TITLES[k], xref="paper", yref="paper",
                            x=(x0 + x1) / 2 / W, y=1 - (yt - 5) / H,
                            xanchor="center", yanchor="bottom", showarrow=False,
                            font=dict(family=FONT, size=21, color=TXT)))
    if c == 0:
        annotations.append(dict(text=Y_LABEL, xref="paper", yref="paper",
                                x=20 / W, y=1 - (yt + yb) / 2 / H, textangle=-90,
                                xanchor="center", yanchor="middle", showarrow=False,
                                font=dict(family=FONT, size=20, color=TXT)))
    if r == 2:
        annotations.append(dict(text=X_LABEL, xref="paper", yref="paper",
                                x=(x0 + x1) / 2 / W, y=1 - 734 / H,
                                xanchor="center", yanchor="middle", showarrow=False,
                                font=dict(family=FONT, size=20, color=TXT)))

layout["annotations"] = annotations
fig.update_layout(**layout)
fig.write_html("out.html")
